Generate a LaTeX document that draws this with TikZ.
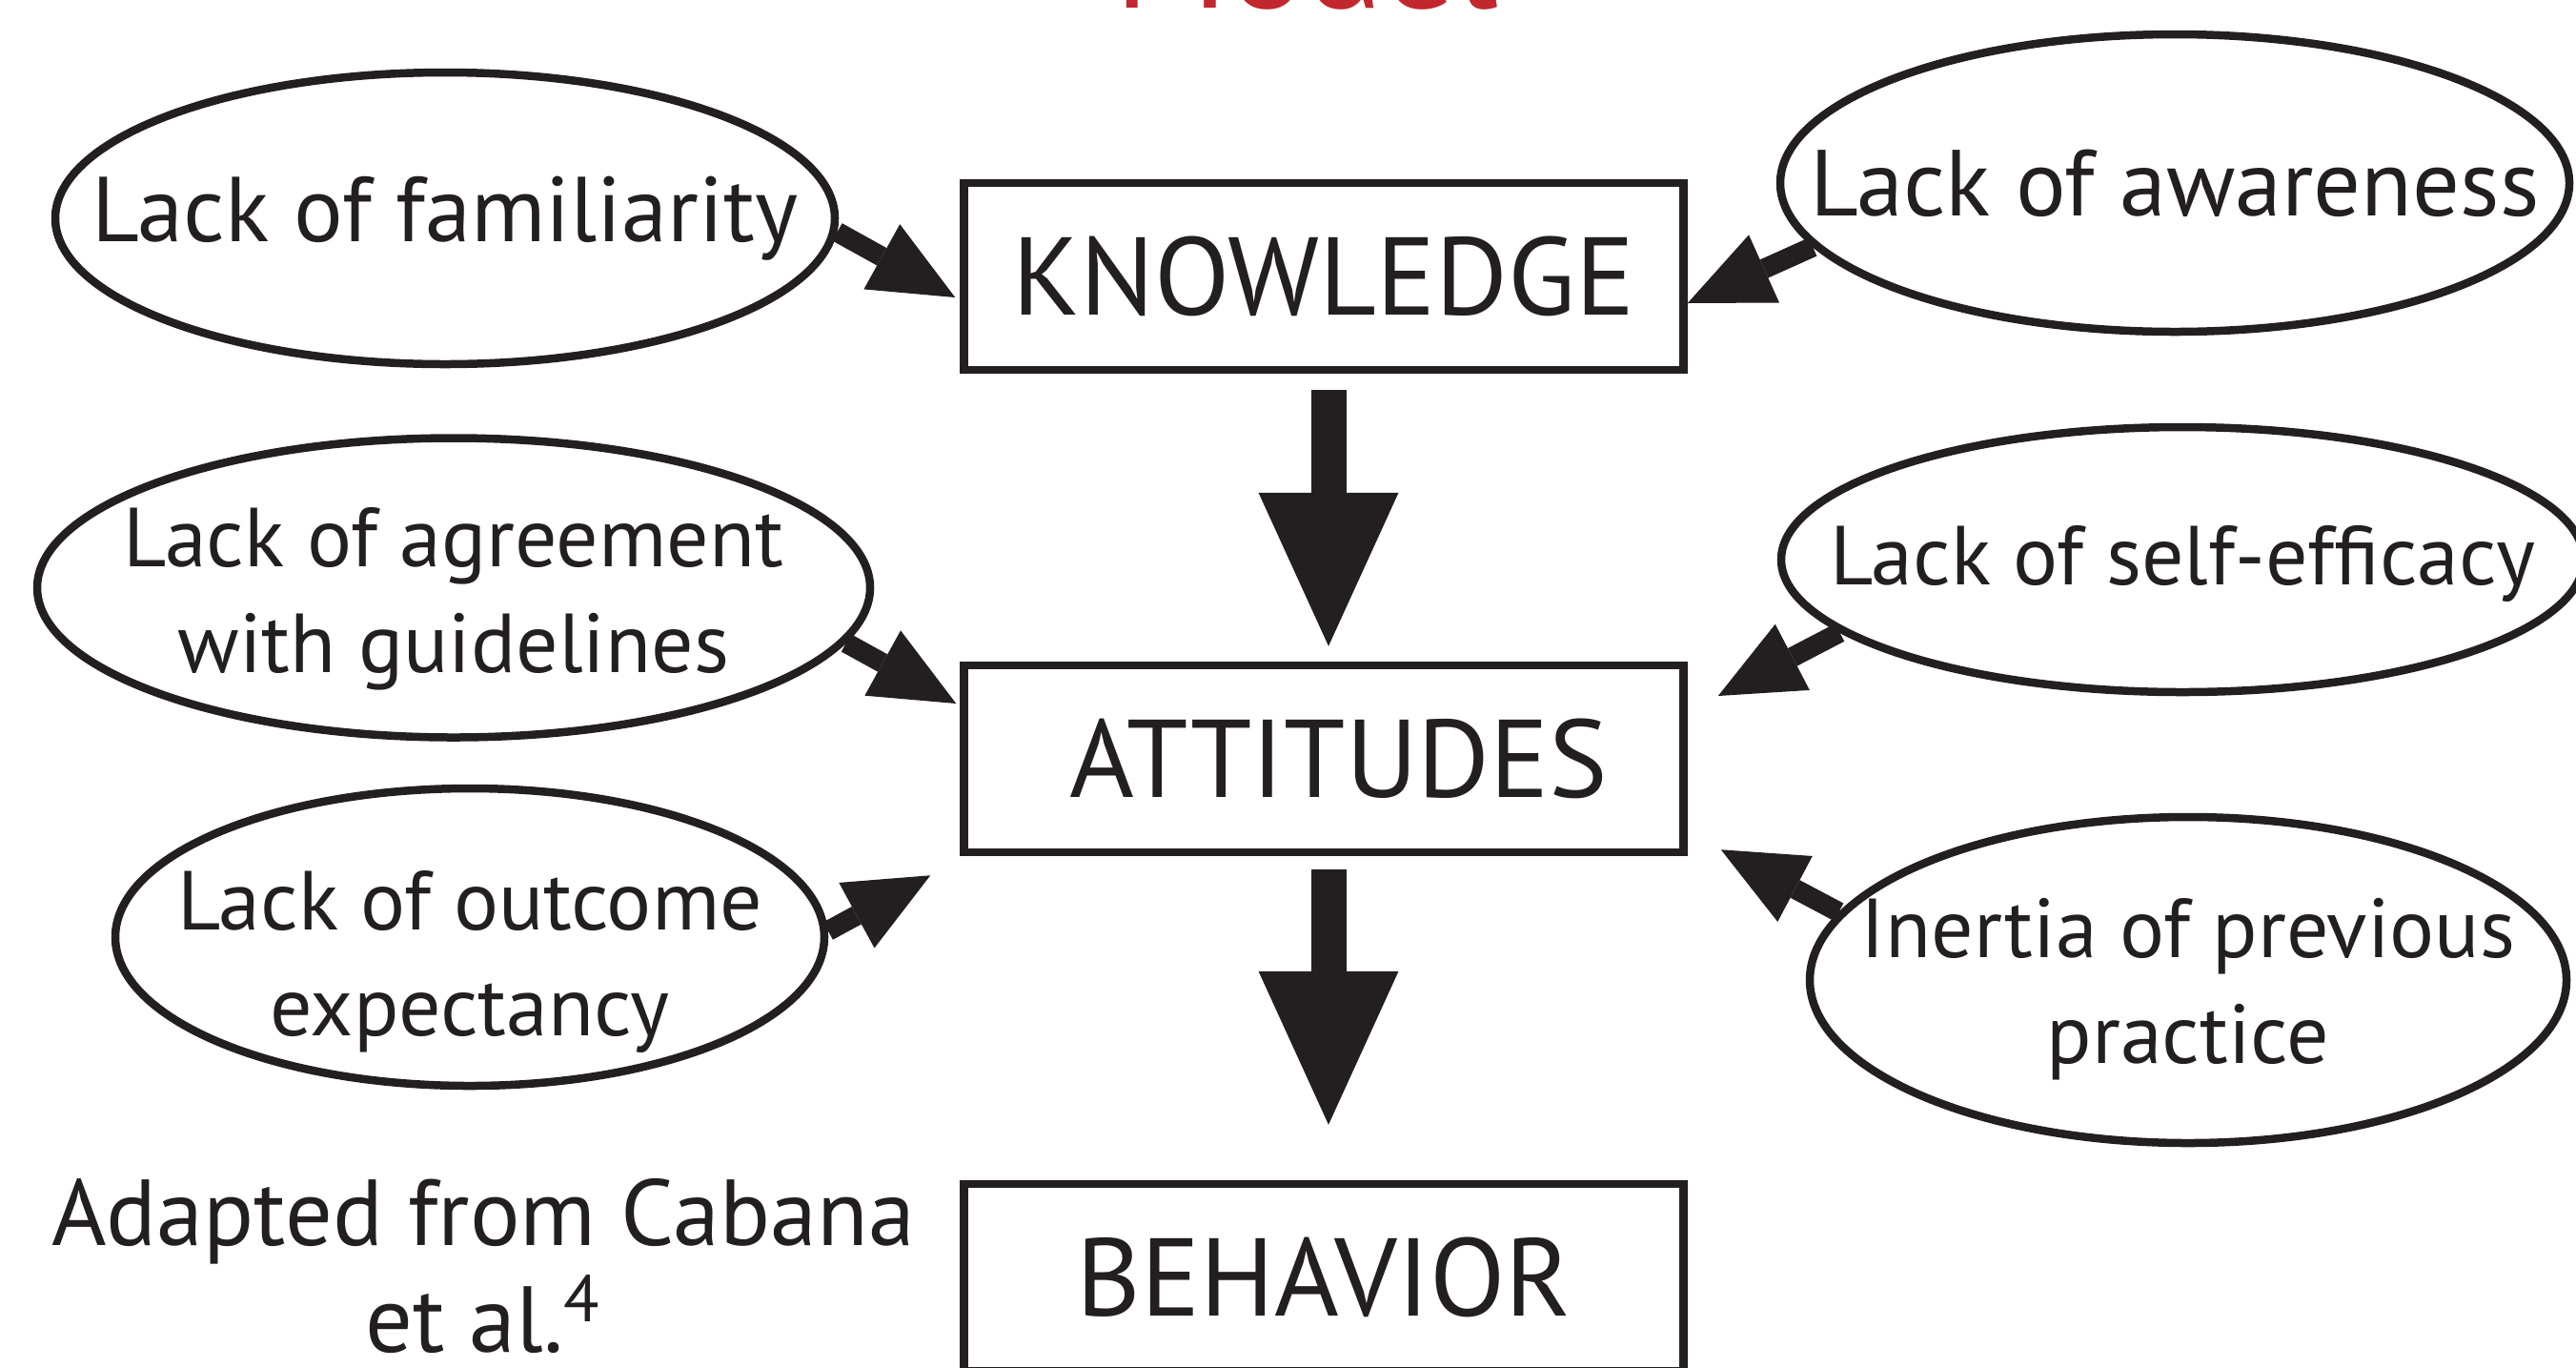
\documentclass[tikz,border=0pt]{standalone}
\usepackage{fontspec}
\setmainfont{PT Sans}
\usetikzlibrary{arrows.meta,shapes.geometric}
\definecolor{ink}{HTML}{231F20}
\definecolor{titlered}{HTML}{C1272D}
\tikzset{
	box/.style={draw=ink,line width=0.085cm,minimum width=7.55cm,minimum height=1.96cm,
		inner sep=0pt,text=ink,font=\fontsize{33}{38}\selectfont},
	barrier/.style={draw=ink,ellipse,line width=0.085cm,inner sep=0pt},
	btext/.style={text=ink,align=center,font=\fontsize{25}{31.5}\selectfont},
	bigarrow/.style={draw=ink,line width=0.37cm,
		-{Triangle[length=1.61cm,width=1.47cm,line width=0pt]}},
	smallarrow/.style={draw=ink,line width=0.21cm,
		-{Triangle[length=0.88cm,width=0.78cm,line width=0pt]}}
}
\begin{document}
\begin{tikzpicture}
		\clip (0,0) rectangle (27.03,-14.34);
		% Titel
		\node[anchor=base,text=titlered,font=\fontsize{43}{50}\selectfont] (title) at (13.71,-0.08) {Model};
		% Boxen
		\node[box] (know) at (13.89,-2.90) {KNOWLEDGE};
		\node[box] (att) at (13.89,-7.96) {\hspace*{0.32cm}ATTITUDES};
		\node[box] (beh) at (13.89,-13.40) {BEHAVIOR};
		% Ellipsen
		\node[barrier,minimum width=8.18cm,minimum height=3.06cm,
			label={[btext,font=\fontsize{27.5}{31}\selectfont]center:Lack of familiarity}] (fam) at (4.67,-2.29) {};
		\node[barrier,minimum width=8.28cm,minimum height=3.12cm,
			label={[btext,font=\fontsize{28}{31}\selectfont]center:Lack of awareness}] (aware) at (22.82,-1.92) {};
		\node[barrier,minimum width=8.74cm,minimum height=3.14cm,
			label={[btext,yshift=-0.12cm]center:Lack of agreement\\with guidelines}] (agree) at (4.76,-6.165) {};
		\node[barrier,minimum width=8.42cm,minimum height=2.78cm,
			label={[btext,yshift=-0.04cm]center:Lack of self-efficacy}] (self) at (22.90,-5.87) {};
		\node[barrier,minimum width=7.44cm,minimum height=3.12cm,
			label={[btext,yshift=-0.26cm]center:Lack of outcome\\expectancy}] (outc) at (4.93,-9.83) {};
		\node[barrier,minimum width=7.94cm,minimum height=3.42cm,
			label={[btext,yshift=-0.10cm]center:Inertia of previous\\practice}] (inert) at (22.96,-10.28) {};
		% Quelle
		\node[btext,font=\fontsize{28}{32}\selectfont] (src) at (5.07,-13.28) {Adapted from Cabana\\et al.\textsuperscript{4}};
		% Pfeile
		\draw[bigarrow,shorten <=0.17cm,shorten >=0.16cm] ([xshift=0.05cm]know.south) -- ([xshift=0.05cm]att.north);
		\draw[bigarrow,shorten <=0.14cm,shorten >=0.58cm] ([xshift=0.05cm]att.south) -- ([xshift=0.05cm]beh.north);
		\draw[smallarrow] (fam.-2) -- ([shift={(-0.05,-0.22)}]know.west);
		\draw[smallarrow] (aware.190) -- ([shift={(0,-0.28)}]know.east);
		\draw[smallarrow] (agree.-8) -- ([shift={(-0.04,0.58)}]att.west);
		\draw[smallarrow] (self.192) -- ([shift={(0.32,0.66)}]att.east);
		\draw[smallarrow] (outc.1) -- ([shift={(-0.31,-0.20)}]att.south west);
		\draw[smallarrow] (inert.169) -- ([shift={(0.35,0.07)}]att.south east);
	\end{tikzpicture}
\end{document}
